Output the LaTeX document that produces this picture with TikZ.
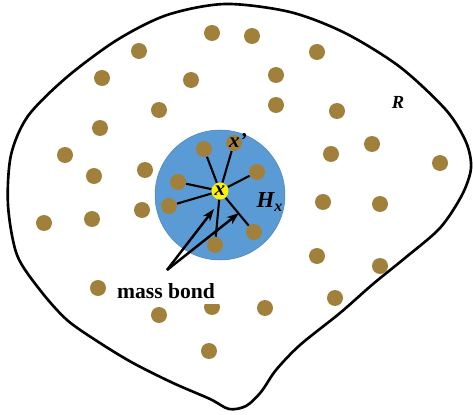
\documentclass[tikz,border=0pt]{standalone}
\usepackage{fontspec}
\setmainfont{Liberation Serif}
\usetikzlibrary{arrows.meta}
\definecolor{dotbrown}{RGB}{160,128,58}
\definecolor{hblue}{RGB}{91,155,213}
\begin{document}
\begin{tikzpicture}[x=0.02cm, y=-0.02cm,
  pt/.style={circle, fill=dotbrown, inner sep=0pt, minimum size=0.32cm},
  bond/.style={line width=1.2pt},
  bondarrow/.style={-{Stealth[length=7pt, width=5pt]}, line width=1.4pt},
  lbl/.style={font=\bfseries\itshape\fontsize{12}{14}\selectfont}]
  \useasboundingbox (0,0) rectangle (473,415);
  % region R
  \draw[line width=1.5pt] plot[smooth cycle] coordinates {
    (225,4) (290,12) (345,33) (400,67) (446,110) (466,142) (471,168) (462,195)
    (440,228) (405,258) (373,284) (340,313) (300,345) (276,370) (261,392)
    (246,406) (229,409) (210,399) (173,383) (133,363) (100,343)
    (67,320) (40,290) (17,255) (8,205) (11,155) (28,116) (67,77) (117,40)
    (167,15)};
  \node[lbl, font=\bfseries\itshape\fontsize{10.5}{12}\selectfont] (R) at (398,102) {R};
  % horizon H_x
  \node[circle, fill=hblue, draw=hblue!85!black, line width=0.3pt, minimum size=2.6cm] (Hx) at (220,195) {};
  % material points outside the horizon
  \foreach \px/\py [count=\i] in {212/33, 139/51, 102/78, 191/80, 159/110, 100/128,
      65/155, 94/176, 145/170, 142/210, 44/223, 92/219, 252/36, 317/52, 276/75,
      276/105, 337/111, 372/144, 331/154, 440/163, 323/202, 380/204, 317/256,
      380/266, 335/298, 265/308, 98/288, 159/315, 212/307, 209/351}
    \node[pt] (d\i) at (\px,\py) {};
  % family of x
  \foreach \n/\px/\py in {fa/204/149, fb/234/143, fc/257/172, fd/178/182,
      fe/169/206, ff/215/245, fg/254/232}
    \node[pt] (\n) at (\px,\py) {};
  \node[circle, fill=yellow, inner sep=0pt, minimum size=0.34cm, lbl] (ctr) at (220,191) {x};
  \foreach \n in {fa,fb,fc,fd,fe,ff,fg}
    \draw[bond] (ctr) -- (\n);
  \node[lbl] (xp) at (238,140) {x'};
  \node[lbl, font=\bfseries\itshape\fontsize{13}{15}\selectfont] (Hlbl) at (270,202) {H\textsubscript{x}};
  % mass bond label
  \node[fill=white, font=\bfseries\fontsize{12.3}{14}\selectfont] (mb) at (166,291) {mass bond};
  \coordinate (tail) at (167,270);
  \coordinate (h1) at (214,209);
  \coordinate (h2) at (239,213);
  \draw[bondarrow] (tail) -- (h1);
  \draw[bondarrow] (tail) -- (h2);
\end{tikzpicture}
\end{document}
